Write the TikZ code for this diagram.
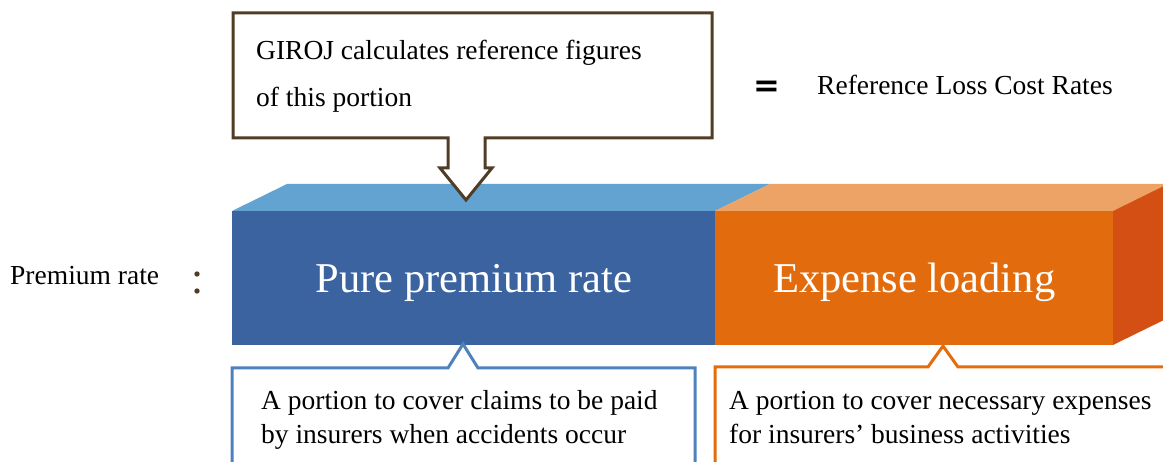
\documentclass[tikz,border=0pt]{standalone}
\usepackage{fontspec}
\setmainfont{Liberation Serif}
\newfontfamily\symfont{DejaVu Sans}
\begin{document}
\begin{tikzpicture}[x=1bp,y=-1bp,
  line join=miter,
  lbl/.style={font=\fontsize{27.5bp}{34bp}\selectfont, inner sep=0pt, anchor=base west},
  big/.style={font=\fontsize{42.5bp}{50bp}\selectfont, text=white, inner sep=0pt, anchor=base},
  face/.style={minimum height=134bp, inner sep=0pt, anchor=north west},
  callout/.style={line width=3bp, fill=white}]
\definecolor{blueFront}{HTML}{3A63A0}
\definecolor{blueTop}{HTML}{62A3D1}
\definecolor{orangeFront}{HTML}{E26C0D}
\definecolor{orangeTop}{HTML}{EDA366}
\definecolor{orangeSide}{HTML}{D44F14}
\definecolor{blueLine}{HTML}{4F81BD}
\definecolor{orangeLine}{HTML}{E46C0A}
\definecolor{brownLine}{HTML}{4F3D26}
\useasboundingbox (0,0) rectangle (1163,462);
\clip (0,0) rectangle (1163,462);

% 3-D bar: top and side faces
\fill[blueTop] (232,211) -- (287,184) -- (770,184) -- (715,211) -- cycle;
\fill[orangeTop] (715,211) -- (770,184) -- (1170,184) -- (1113,211) -- cycle;
\fill[orangeSide] (1113,211) -- (1168,184) -- (1168,318) -- (1113,345) -- cycle;

% 3-D bar: front faces
\node[face, fill=blueFront, minimum width=483bp] (pure) at (232,211) {};
\node[face, fill=orangeFront, minimum width=398bp] (expense) at (715,211) {};
\node[big] (puretext) at (pure.center |- 0,293) {Pure premium rate};
\node[big] (expensetext) at (expense.center |- 0,293) {Expense loading};

% left label
\node[lbl] (premium) at (10,285) {Premium rate};
\fill[brownLine] (197,274) circle (2.7);
\fill[brownLine] (197,291) circle (2.7);

% upper callout pointing down onto the bar
\draw[callout, draw=brownLine] (233,13) -- (712,13) -- (712,138) -- (485,138) -- (485,168)
  -- (492,168) -- (466,200) coordinate (tip) -- (440,168) -- (448,168) -- (448,138)
  -- (233,138) -- cycle;
\node[lbl, align=left, font=\fontsize{27.5bp}{47bp}\selectfont] (giroj) at (256,107)
  {GIROJ calculates reference figures\\of this portion};

% equals and reference text
\node[inner sep=0pt, anchor=base, font=\symfont\bfseries\fontsize{32bp}{32bp}\selectfont] (eq) at (767,97) {=};
\node[lbl] (ref) at (817,95) {Reference Loss Cost Rates};

% lower callouts
\draw[callout, draw=blueLine] (232,475) -- (232,368) -- (448,368) -- (463,344) coordinate (ptip)
  -- (478,368) -- (695,368) -- (695,475);
\node[lbl, align=left] (claims) at (261,444)
  {A portion to cover claims to be paid\\by insurers when accidents occur};

\draw[callout, draw=orangeLine] (715,475) -- (715,367) -- (928,367) -- (943,346) coordinate (etip)
  -- (958,367) -- (1175,367);
\node[lbl, align=left] (costs) at (729,444)
  {A portion to cover necessary expenses\\for insurers’ business activities};
\end{tikzpicture}
\end{document}
